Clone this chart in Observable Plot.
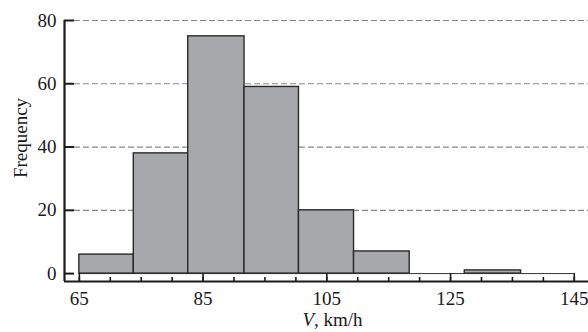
<!DOCTYPE html>
<html>
<head>
<meta charset="utf-8">
<script src="https://cdn.jsdelivr.net/npm/d3@7"></script>
<script src="https://cdn.jsdelivr.net/npm/@observablehq/plot@0.6"></script>
<style>
  html, body { margin: 0; padding: 0; background: #fff; }
  svg { display: block; }
</style>
</head>
<body>
<div id="chart"></div>
<script>
// Bin edges (km/h) and frequencies
const binStart = [65, 73.8, 82.6, 91.7, 100.5, 109.4, 118.4, 127.3];
const binEnd   = [73.8, 82.6, 91.7, 100.5, 109.4, 118.4, 127.3, 136.4];
const counts   = [6, 38, 75, 59, 20, 7, 0, 1];

const xMajorTicks = [65, 85, 105, 125, 145];
const xMinorTicks = d3.range(65, 146, 5);
const yTicks = [0, 20, 40, 60, 80];
const gridTicks = [20, 40, 60, 80];

const xDomain = [62.6, 147.3];
const yDomain = [-2.5, 80];

const bins = binStart.map((s, i) => ({x1: s, x2: binEnd[i], count: counts[i]})).filter(d => d.count > 0);

const font = "'Liberation Serif', 'DejaVu Serif', serif";

const chart = Plot.plot({
  width: 588,
  height: 332,
  marginLeft: 64,
  marginRight: 0,
  marginTop: 20,
  marginBottom: 51,
  style: {fontFamily: font, fontSize: "19px", color: "#1a1a1a", background: "#fff"},
  x: {domain: xDomain},
  y: {domain: yDomain},
  marks: [
    Plot.gridY(gridTicks, {stroke: "#888", strokeOpacity: 1, strokeWidth: 1.2, strokeDasharray: "6,3", insetLeft: 10}),
    Plot.ruleY([0], {x1: xMajorTicks[0], x2: xMajorTicks[xMajorTicks.length - 1], stroke: "#333", strokeWidth: 1}),
    Plot.rect(bins, {x1: "x1", x2: "x2", y1: 0, y2: "count", fill: "#a7a8ac", stroke: "#2a2a2a", strokeWidth: 1.4}),
    // axis lines
    Plot.ruleY([yDomain[0]], {stroke: "#1a1a1a", strokeWidth: 2.2}),
    Plot.ruleX([xDomain[0]], {y1: yDomain[0], y2: yDomain[1], stroke: "#1a1a1a", strokeWidth: 2.2}),
    // x ticks (inward)
    Plot.axisX(xMinorTicks, {tickSize: -4, tickFormat: () => "", label: null, stroke: "#1a1a1a", strokeWidth: 1.6}),
    Plot.axisX(xMajorTicks, {tickSize: -8, tickFormat: () => "", label: null, stroke: "#1a1a1a", strokeWidth: 1.6}),
    Plot.axisX(xMajorTicks, {tickSize: 0, tickPadding: 10, label: null, fill: "#1a1a1a"}),
    // y ticks (inward)
    Plot.axisY(yTicks, {tickSize: -10, tickFormat: () => "", label: null, stroke: "#1a1a1a", strokeWidth: 2}),
    Plot.axisY(yTicks, {tickSize: 0, tickPadding: 8, label: null, fill: "#1a1a1a"}),
    // axis titles
    Plot.text(["V, km/h"], {frameAnchor: "bottom", textAnchor: "middle", lineAnchor: "middle", dx: 6, dy: 38, fontSize: 19, fill: "#1a1a1a"}),
    Plot.text(["Frequency"], {frameAnchor: "left", textAnchor: "middle", lineAnchor: "middle", rotate: -90, dx: -44, dy: -13, fontSize: 19, fill: "#1a1a1a"})
  ]
});

// italicize the variable V in the x-axis title
d3.select(chart).selectAll("text").each(function() {
  const t = d3.select(this);
  if (t.text() === "V, km/h") {
    t.text(null);
    t.append("tspan").attr("font-style", "italic").text("V");
    t.append("tspan").text(", km/h");
  }
});

document.getElementById("chart").appendChild(chart);
</script>
</body>
</html>
